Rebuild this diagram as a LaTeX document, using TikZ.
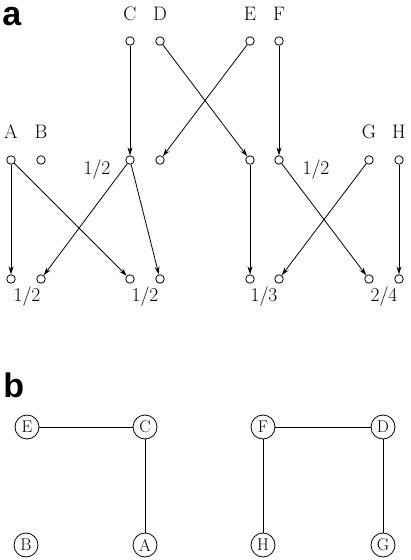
\documentclass[tikz,border=0pt]{standalone}
\usepackage{fontspec}
\newfontfamily\panelfont{Liberation Sans}
\usetikzlibrary{arrows.meta}

\begin{document}
\begin{tikzpicture}[x=1pt,y=-1pt,line width=0.8pt,
        site/.style={circle,draw,inner sep=0pt,minimum size=8.5pt},
        spin/.style={circle,draw,inner sep=0pt,minimum size=24pt,font=\fontsize{17}{17}\selectfont},
        hop/.style={-{Stealth[length=8pt,width=5pt]}},
        lbl/.style={font=\fontsize{19.5}{20}\selectfont},
        panel/.style={anchor=base west,inner sep=0pt,text height=18pt,font=\panelfont\bfseries\fontsize{34}{34}\selectfont}]

        \useasboundingbox (0,0) rectangle (410,560);

        % panel a
        \node[panel] (pa) at (2,25) {a};

        \foreach \x [count=\i from 3] in {130,160,250,279}
            \node[site] (t\i) at (\x,41) {};
        \foreach \x [count=\i] in {11,41,130,160,250,279,369,399} {
            \node[site] (m\i) at (\x,160) {};
            \node[site] (b\i) at (\x,279) {};
        }

        \node[lbl] (lC) at (130,14) {C};
        \node[lbl] (lD) at (160,14) {D};
        \node[lbl] (lE) at (250,14) {E};
        \node[lbl] (lF) at (279,14) {F};
        \node[lbl] (lA) at (11,132) {A};
        \node[lbl] (lB) at (41,132) {B};
        \node[lbl] (lG) at (369,132) {G};
        \node[lbl] (lH) at (399,132) {H};

        \node[lbl] (f1) at (97,170) {1/2};
        \node[lbl] (f2) at (316,170) {1/2};
        \node[lbl] (f3) at (27,297) {1/2};
        \node[lbl] (f4) at (145,297) {1/2};
        \node[lbl] (f5) at (264,297) {1/3};
        \node[lbl] (f6) at (384,297) {2/4};

        \draw[hop] (t3) -- (m3);
        \draw[hop] (t4) -- (m5);
        \draw[hop] (t5) -- (m4);
        \draw[hop] (t6) -- (m6);

        \draw[hop] (m1) -- (b1);
        \draw[hop] (m1) -- (b3);
        \draw[hop] (m3) -- (b2);
        \draw[hop] (m3) -- (b4);
        \draw[hop] (m5) -- (b5);
        \draw[hop] (m6) -- (b7);
        \draw[hop] (m7) -- (b6);
        \draw[hop] (m8) -- (b8);

        % panel b
        \node[panel] (pb) at (3,397) {b};

        \node[spin] (E) at (27,427) {E};
        \node[spin] (C) at (145,427) {C};
        \node[spin] (F) at (263,427) {F};
        \node[spin] (D) at (383,427) {D};
        \node[spin] (B) at (26,545) {B};
        \node[spin] (A) at (145,545) {A};
        \node[spin] (H) at (263,545) {H};
        \node[spin] (G) at (383,545) {G};

        \draw (E) -- (C) -- (A);
        \draw (H) -- (F) -- (D) -- (G);

\end{tikzpicture}
\end{document}
